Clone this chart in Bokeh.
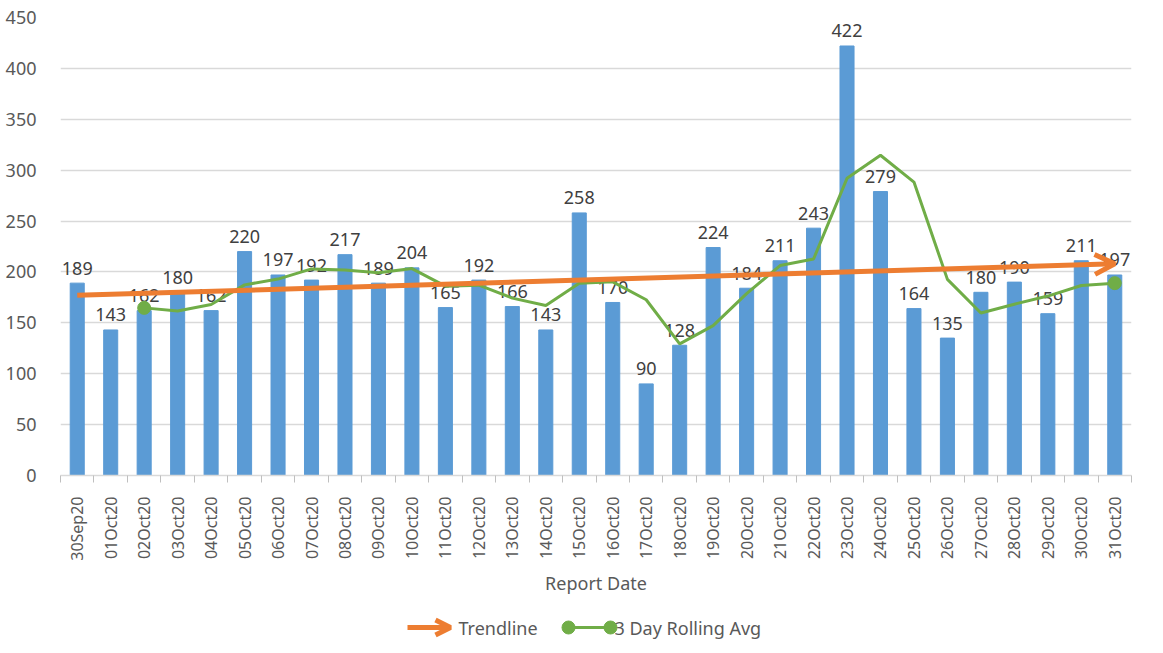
from math import pi
from bokeh.plotting import figure
from bokeh.models import FixedTicker, Arrow, OpenHead, Range1d
from bokeh.layouts import column
from bokeh.embed import file_html
from bokeh.resources import INLINE
from bokeh.core.properties import value

# ---------------- data ----------------
dates = ["30Sep20", "01Oct20", "02Oct20", "03Oct20", "04Oct20", "05Oct20", "06Oct20",
         "07Oct20", "08Oct20", "09Oct20", "10Oct20", "11Oct20", "12Oct20", "13Oct20",
         "14Oct20", "15Oct20", "16Oct20", "17Oct20", "18Oct20", "19Oct20", "20Oct20",
         "21Oct20", "22Oct20", "23Oct20", "24Oct20", "25Oct20", "26Oct20", "27Oct20",
         "28Oct20", "29Oct20", "30Oct20", "31Oct20"]
cases = [189, 143, 162, 180, 162, 220, 197, 192, 217, 189, 204, 165, 192, 166, 143, 258,
         170, 90, 128, 224, 184, 211, 243, 422, 279, 164, 135, 180, 190, 159, 211, 197]
# 3 day rolling average, first value on 02Oct20
rolling_avg = [164.7, 161.7, 168.0, 187.3, 193.0, 203.0, 202.0, 199.3, 203.3, 186.0,
               187.0, 174.3, 167.0, 189.0, 190.3, 172.7, 129.3, 147.3, 178.7, 206.3,
               212.7, 292.0, 314.7, 288.3, 192.7, 159.7, 168.3, 176.3, 186.7, 189.0]
trend_start = 177
trend_end = 208
y_ticks = [0, 50, 100, 150, 200, 250, 300, 350, 400, 450]

# ---------------- styles ----------------
FONT = "Noto Sans"
BAR = "#5B9BD5"
ORANGE = "#ED7D31"
GREEN = "#70AD47"
AXIS_TXT = "#595959"
LBL_TXT = "#404040"
GRID = "#D9D9D9"

W = 1160
BL, BR = 60, 29          # frame spans page x 60 .. 1131
FRAME_L, FRAME_R = BL, W - BR

xs = list(range(len(dates)))
roll_x = xs[len(dates) - len(rolling_avg):]

p = figure(width=W, height=608,
           x_range=Range1d(-0.5, len(dates) - 0.5), y_range=Range1d(y_ticks[0], y_ticks[-1]),
           output_backend="svg", toolbar_location=None,
           min_border_left=BL, min_border_right=BR, min_border_top=17, min_border_bottom=133)
p.outline_line_color = None

p.vbar(x=xs, top=cases, width=0.42, color=BAR)
p.text(x=xs, y=cases, text=[str(c) for c in cases], text_align="center",
       text_baseline="alphabetic", y_offset=-15, text_font=value(FONT),
       text_font_size="18px", text_color=LBL_TXT)
p.line(roll_x, rolling_avg, line_color=GREEN, line_width=3)
p.scatter([roll_x[0], roll_x[-1]], [rolling_avg[0], rolling_avg[-1]], size=13,
          color=GREEN)
p.add_layout(Arrow(x_start=xs[0], y_start=trend_start, x_end=xs[-1], y_end=trend_end,
                   line_color=ORANGE, line_width=5,
                   end=OpenHead(size=20, line_color=ORANGE, line_width=5)))

# x axis
xa = p.xaxis[0]
xa.ticker = FixedTicker(ticks=xs, minor_ticks=[i - 0.5 for i in range(len(dates) + 1)])
xa.major_label_overrides = {i: d for i, d in enumerate(dates)}
xa.major_label_orientation = pi / 2
xa.major_tick_out = 0
xa.major_tick_in = 0
xa.minor_tick_out = 7
xa.minor_tick_in = 0
xa.minor_tick_line_color = "#BFBFBF"
xa.axis_line_color = GRID
xa.axis_line_width = 1.5
xa.major_label_standoff = 14
xa.major_label_text_font = FONT
xa.major_label_text_font_size = "16px"
xa.major_label_text_color = AXIS_TXT
xa.axis_label = "Report Date"
xa.axis_label_text_font = FONT
xa.axis_label_text_font_size = "18px"
xa.axis_label_text_font_style = "normal"
xa.axis_label_text_color = AXIS_TXT
xa.axis_label_standoff = 7

# y axis
ya = p.yaxis[0]
ya.ticker = FixedTicker(ticks=y_ticks)
ya.axis_line_color = None
ya.major_tick_line_color = None
ya.minor_tick_line_color = None
ya.major_label_standoff = 18
ya.major_label_text_font = FONT
ya.major_label_text_font_size = "18px"
ya.major_label_text_color = AXIS_TXT

p.xgrid.visible = False
p.ygrid.grid_line_color = GRID
p.ygrid.grid_line_width = 1.5

# ---------------- legend strip (x in page pixels) ----------------
LH = 44
lg = figure(width=W, height=LH, x_range=Range1d(FRAME_L, FRAME_R), y_range=Range1d(0, LH),
            output_backend="svg", toolbar_location=None,
            min_border_left=BL, min_border_right=BR, min_border_top=0, min_border_bottom=0)
lg.outline_line_color = None
lg.axis.visible = False
lg.grid.visible = False
ly = LH - 19
lg.add_layout(Arrow(x_start=407, y_start=ly, x_end=450, y_end=ly, line_color=ORANGE,
                    line_width=5, end=OpenHead(size=15, line_color=ORANGE, line_width=5)))
lg.text(x=[458], y=[ly], text=["Trendline"], text_baseline="middle", text_align="left",
        text_font=value(FONT), text_font_size="18px", text_color=AXIS_TXT)
lg.line([568, 610], [ly, ly], line_color=GREEN, line_width=3)
lg.scatter([568, 610], [ly, ly], size=13, color=GREEN)
lg.text(x=[614], y=[ly], text=["3 Day Rolling Avg"], text_baseline="middle",
        text_align="left", text_font=value(FONT), text_font_size="18px",
        text_color=AXIS_TXT)

layout = column(p, lg, spacing=0)
open("out.html", "w").write(file_html(layout, INLINE))
